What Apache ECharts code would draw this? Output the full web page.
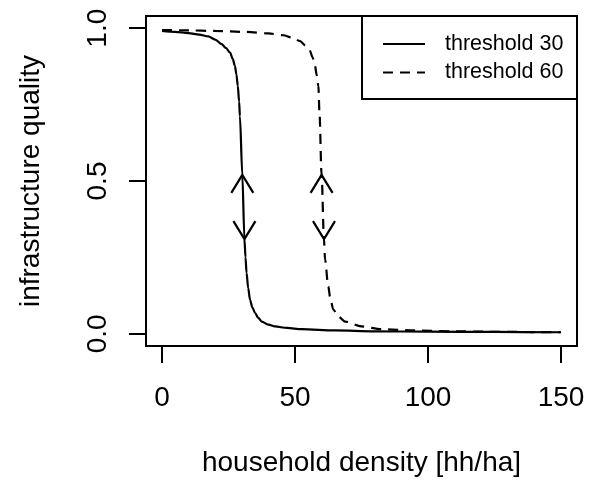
<!DOCTYPE html>
<html>
<head>
<meta charset="utf-8">
<script src="https://cdn.jsdelivr.net/npm/echarts@6/dist/echarts.min.js"></script>
<style>
  html, body { margin: 0; padding: 0; background: #fff; }
  #chart { width: 594px; height: 480px; }
</style>
</head>
<body>
<div id="chart"></div>
<script>
// 曲线数据
const thr30X = [0, 5, 10, 14, 17.4, 20, 22.4, 24, 25.6, 26.6, 27.4, 28, 28.5, 29, 29.3, 30.2, 31.0, 31.4, 31.8, 32.4, 33.1, 34, 35, 36.2, 37.5, 40, 42.5, 47, 52.5, 65, 80, 100, 125, 150];
const thr30Y = [0.991, 0.988, 0.984, 0.979, 0.973, 0.963, 0.948, 0.936, 0.920, 0.900, 0.877, 0.848, 0.811, 0.760, 0.712, 0.520, 0.310, 0.250, 0.199, 0.150, 0.111, 0.086, 0.068, 0.052, 0.040, 0.030, 0.024, 0.019, 0.015, 0.011, 0.008, 0.007, 0.006, 0.005];

const thr60X = [0, 10, 20, 31.8, 40, 45.6, 49, 51.9, 54, 55.6, 56.6, 57.5, 58.2, 58.8, 59.2, 60.0, 60.9, 61.3, 62.5, 63.3, 64.4, 66.3, 68.8, 75, 82.6, 95, 110, 130, 150];
const thr60Y = [0.994, 0.993, 0.991, 0.988, 0.983, 0.977, 0.969, 0.958, 0.943, 0.926, 0.905, 0.877, 0.845, 0.811, 0.724, 0.520, 0.310, 0.243, 0.155, 0.115, 0.079, 0.056, 0.040, 0.024, 0.015, 0.011, 0.008, 0.006, 0.005];

// 箭头（尖端位置，1 = 向上, -1 = 向下）
const arrowX = [30.2, 31.0, 60.0, 60.9];
const arrowY = [0.52, 0.31, 0.52, 0.31];
const arrowDir = [1, -1, 1, -1];

const seriesNames = ["threshold 30", "threshold 60"];
const xTicks = [0, 50, 100, 150];
const yTicks = [0, 0.5, 1];

const FONT = "Liberation Sans, Arial, sans-serif";
const INK = "#000";

const pairs = (xs, ys) => xs.map((x, i) => [x, ys[i]]);

const chart = echarts.init(document.getElementById("chart"), null, { renderer: "canvas" });

chart.setOption({
  animation: false,
  backgroundColor: "#fff",
  textStyle: { fontFamily: FONT, color: INK },
  grid: {
    left: 146, right: 17, top: 16, bottom: 134,
    outerBoundsMode: "none",
    show: true, borderColor: INK, borderWidth: 2,
  },
  xAxis: {
    type: "value", min: -6, max: 156,
    name: "household density [hh/ha]",
    nameLocation: "middle", nameGap: 103,
    nameTextStyle: { fontSize: 28, color: INK, fontFamily: FONT, lineHeight: 28 },
    axisLine: { show: false, onZero: false },
    splitLine: { show: false },
    axisTick: { show: true, inside: false, customValues: xTicks, length: 17, lineStyle: { color: INK, width: 2 } },
    axisLabel: { customValues: xTicks, margin: 38, fontSize: 28, lineHeight: 28, color: INK, fontFamily: FONT },
  },
  yAxis: {
    type: "value", min: -0.04, max: 1.04,
    name: "infrastructure quality",
    nameLocation: "middle", nameRotate: 90, nameGap: 101,
    nameTextStyle: { fontSize: 28, color: INK, fontFamily: FONT, lineHeight: 28 },
    axisLine: { show: false, onZero: false },
    splitLine: { show: false },
    axisTick: { show: true, inside: false, customValues: yTicks, length: 17, lineStyle: { color: INK, width: 2 } },
    axisLabel: {
      customValues: yTicks, rotate: 90, margin: 34, fontSize: 28, lineHeight: 28,
      color: INK, fontFamily: FONT,
      formatter: (v) => v.toFixed(1),
    },
  },
  legend: {
    data: seriesNames,
    orient: "vertical",
    left: 382, top: 33, padding: 0,
    itemWidth: 42, itemHeight: 14, itemGap: 6.5,
    z: 10,
    itemStyle: { opacity: 0 },
    textStyle: { fontSize: 21.5, lineHeight: 22, color: INK, fontFamily: FONT, padding: [0, 0, 0, 15] },
  },
  graphic: [{
    type: "rect",
    shape: { x: 362, y: 16, width: 215, height: 83 },
    style: { fill: "#fff", stroke: INK, lineWidth: 2 },
    z: 1,
  }],
  series: [
    {
      name: seriesNames[0], type: "line", data: pairs(thr30X, thr30Y),
      symbol: "none", smooth: 0.3, smoothMonotone: "x",
      lineStyle: { color: INK, width: 2.2, type: "solid" },
      itemStyle: { color: INK },
      z: 3,
    },
    {
      name: seriesNames[1], type: "line", data: pairs(thr60X, thr60Y),
      symbol: "none", smooth: 0.3, smoothMonotone: "x",
      lineStyle: { color: INK, width: 2.2, type: [10, 7] },
      itemStyle: { color: INK },
      z: 3,
    },
    {
      name: "arrows", type: "custom",
      data: arrowX.map((x, i) => [x, arrowY[i], arrowDir[i]]),
      encode: { x: 0, y: 1 },
      renderItem: (params, api) => {
        const p = api.coord([api.value(0), api.value(1)]);
        const d = api.value(2);
        return {
          type: "polyline",
          shape: { points: [[p[0] - 11, p[1] + 18 * d], p, [p[0] + 11, p[1] + 18 * d]] },
          style: { stroke: INK, lineWidth: 2.2, fill: null },
        };
      },
      z: 4,
    },
  ],
});
</script>
</body>
</html>
